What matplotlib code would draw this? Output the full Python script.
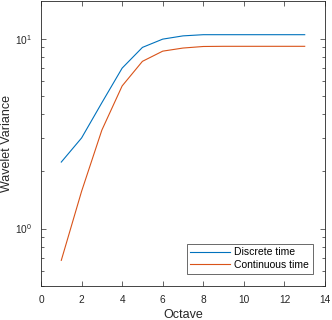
import matplotlib
matplotlib.use("Agg")
import matplotlib.pyplot as plt
from matplotlib.ticker import LogLocator, NullFormatter, FixedLocator

plt.rcParams['font.family'] = ['Liberation Sans', 'DejaVu Sans']

octaves = [1, 2, 3, 4, 5, 6, 7, 8, 9, 10, 11, 12, 13]
discrete = [2.24, 3.0, 4.6, 7.0, 9.0, 9.95, 10.35, 10.5, 10.5, 10.5, 10.5, 10.5, 10.5]
continuous = [0.68, 1.57, 3.3, 5.64, 7.6, 8.6, 8.93, 9.1, 9.12, 9.12, 9.12, 9.12, 9.12]
labels = ["Discrete time", "Continuous time"]
xticks = [0, 2, 4, 6, 8, 10, 12, 14]

fig = plt.figure(figsize=(3.32, 3.2), dpi=100)
ax = fig.add_axes([41/332, 1 - 285.7/320, (325-41)/332, (285.7-1)/320])
ax.plot(octaves, discrete, color='#0072BD', lw=0.8, label=labels[0])
ax.plot(octaves, continuous, color='#D95319', lw=0.8, label=labels[1])
ax.set_yscale('log')
ax.set_xlim(0, 14)
ax.set_ylim(0.5, 15.8)
ax.set_xticks(xticks)
ax.yaxis.set_major_locator(FixedLocator([1, 10]))
ax.yaxis.set_major_formatter(matplotlib.ticker.LogFormatterMathtext())
ax.yaxis.set_minor_locator(LogLocator(base=10, subs=range(2, 10)))
ax.yaxis.set_minor_formatter(NullFormatter())
gray = '#262626'
for s in ax.spines.values():
    s.set_color(gray)
    s.set_linewidth(0.6)
ax.tick_params(which='both', direction='in', top=True, right=True, colors=gray, labelsize=7.3, width=0.5)
ax.tick_params(which='major', length=3.5)
ax.tick_params(which='minor', length=2)
ax.tick_params(axis='x', which='both', pad=7)
ax.tick_params(axis='y', which='both', pad=6.5)
ax.set_xlabel('Octave', fontsize=9, color=gray, labelpad=2.5)
ax.set_ylabel('Wavelet Variance', fontsize=9, color=gray, labelpad=1.5)
leg = ax.legend(loc='lower right', fontsize=7.5, frameon=True, fancybox=False,
                edgecolor=gray, handlelength=3.8, borderpad=0.35, labelspacing=0.25,
                handletextpad=0.45, borderaxespad=1.15)
leg.get_frame().set_linewidth(0.6)
fig.savefig('out.png', dpi=100)
